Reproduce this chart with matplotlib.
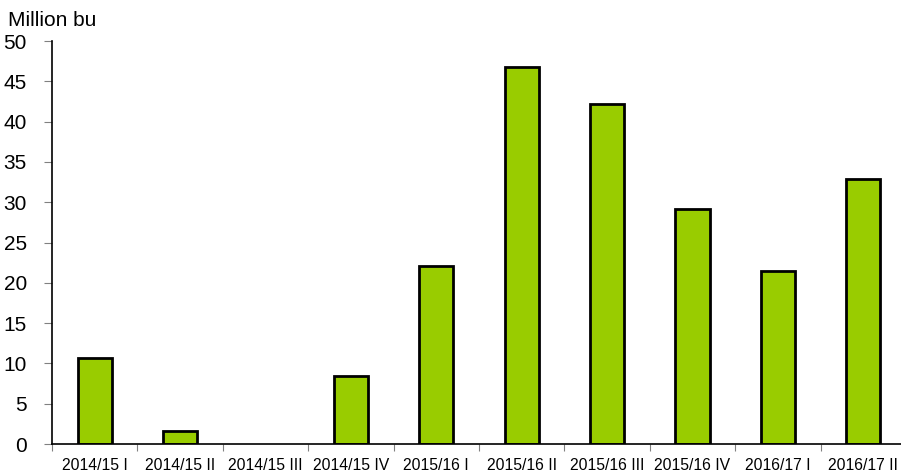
import matplotlib
matplotlib.use("Agg")
import matplotlib.pyplot as plt

categories = ["2014/15 I", "2014/15 II", "2014/15 III", "2014/15 IV", "2015/16 I",
              "2015/16 II", "2015/16 III", "2015/16 IV", "2016/17 I", "2016/17 II"]
values = [10.7, 1.6, 0.0, 8.4, 22.1, 46.8, 42.2, 29.2, 21.5, 32.9]

plt.rcParams['font.family'] = ['Liberation Sans', 'DejaVu Sans']

fig = plt.figure(figsize=(9.01, 4.73), dpi=100)
ax = fig.add_axes([52/901, 1 - 444/473, 854/901, 403/473])

x = list(range(len(categories)))
# empty quarters get no outline
edges = ["black" if v > 0 else "none" for v in values]
ax.bar(x, values, width=0.4, color="#99CC00", edgecolor=edges, linewidth=2.0)

ax.set_xlim(-0.5, len(categories) - 0.5)
ax.set_ylim(0, 50)
ax.set_yticks(range(0, 51, 5))
ax.tick_params(axis='y', labelsize=15, length=6, color='#808080', pad=12)

ax.set_xticks([i - 0.5 for i in range(len(categories) + 1)])
ax.set_xticklabels([])
ax.set_xticks(x, minor=True)
ax.set_xticklabels(categories, minor=True, fontsize=11.3)
ax.tick_params(axis='x', which='major', length=5, color='#808080')
ax.tick_params(axis='x', which='minor', length=0, pad=10)

for s in ['top', 'right']:
    ax.spines[s].set_visible(False)
ax.spines['left'].set_linewidth(1.2)
ax.spines['bottom'].set_linewidth(1.2)
ax.spines['left'].set_zorder(5)
ax.spines['bottom'].set_zorder(5)

fig.text(8/901, 1 - 20/473, "Million bu", fontsize=15, va='center', ha='left')

fig.savefig("out.png", dpi=100)
